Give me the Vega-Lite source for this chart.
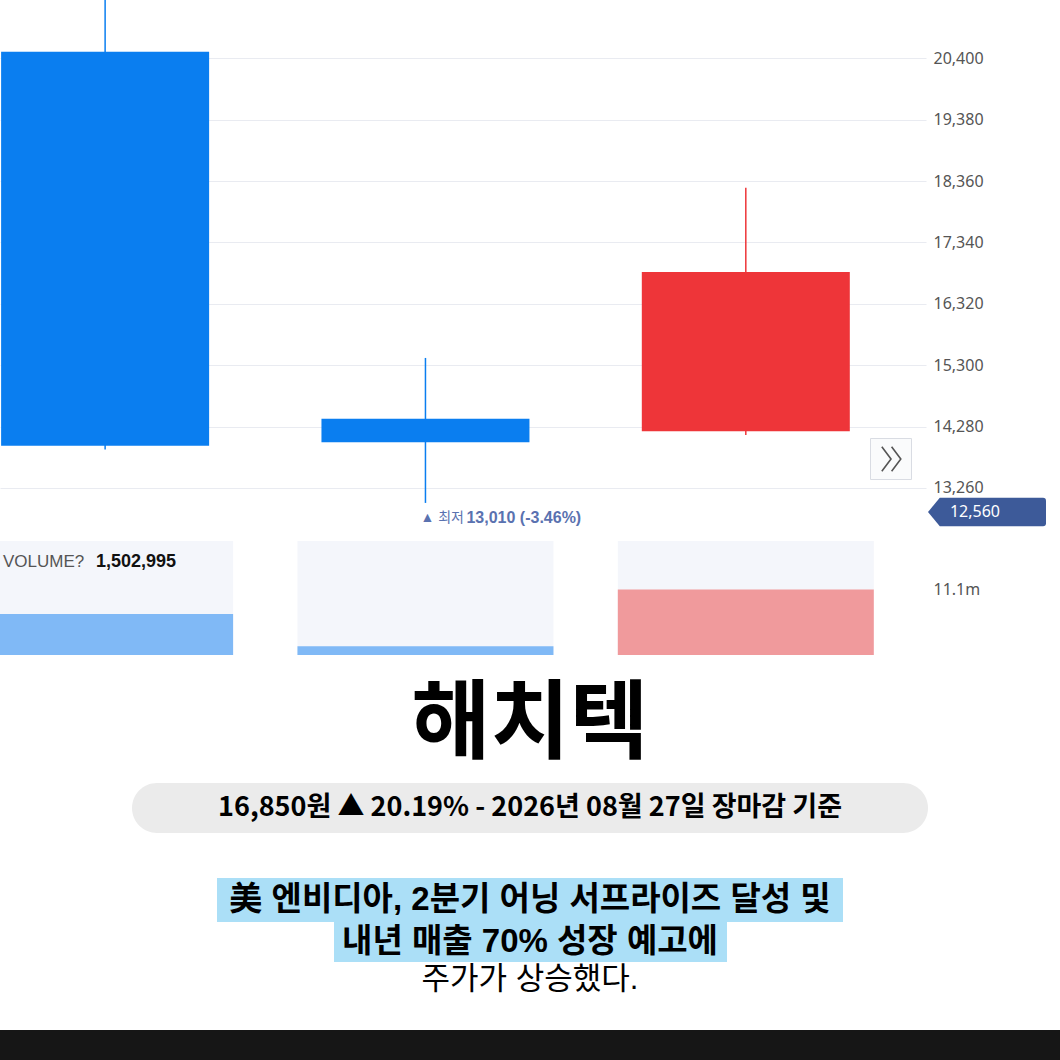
{
  "$schema": "https://vega.github.io/schema/vega-lite/v6.json",
  "padding": 0,
  "spacing": 11,
  "bounds": "flush",
  "background": "white",
  "config": {"view": {"stroke": null}},
  "resolve": {"scale": {"x": "independent", "y": "independent"}},
  "datasets": {
    "candles": [
      {"date": "2026-08-25T00:00:00", "open": 20510, "high": 21900, "low": 13900, "close": 13960, "volume": 6950000},
      {"date": "2026-08-26T00:00:00", "open": 14410, "high": 15420, "low": 13010, "close": 14020, "volume": 1502995},
      {"date": "2026-08-27T00:00:00", "open": 14200, "high": 18250, "low": 14140, "close": 16850, "volume": 11100000}
    ]
  },
  "vconcat": [
    {
      "width": 926,
      "height": 530,
      "data": {"name": "candles"},
      "encoding": {
        "x": {"field": "date", "type": "temporal", "axis": null,
              "scale": {"domain": ["2026-08-24T16:07:30", "2026-08-27T13:30:00"], "padding": 0}}
      },
      "layer": [
        {
          "mark": {"type": "rule", "strokeWidth": 1.5, "clip": true},
          "encoding": {
            "y": {"field": "low", "type": "quantitative",
                  "scale": {"domain": [12560, 21370], "nice": false, "zero": false},
                  "axis": {"orient": "right", "values": [13260, 14280, 15300, 16320, 17340, 18360, 19380, 20400],
                           "format": ",d", "ticks": false, "domain": false, "labelPadding": 7,
                           "labelFont": "Noto Sans", "labelFontSize": 16, "labelColor": "#555555",
                           "gridColor": "#e9ebf1", "gridWidth": 1, "title": null}},
            "y2": {"field": "high"},
            "color": {"condition": {"test": "datum.close > datum.open", "value": "#ee3539"}, "value": "#0a7ef0"}
          }
        },
        {
          "mark": {"type": "bar", "size": 208, "clip": true},
          "encoding": {
            "y": {"field": "open", "type": "quantitative"},
            "y2": {"field": "close"},
            "color": {"condition": {"test": "datum.close > datum.open", "value": "#ee3539"}, "value": "#0a7ef0"}
          }
        },
        {
          "transform": [{"filter": "datum.low == 13010"}],
          "mark": {"type": "text", "align": "left", "baseline": "middle", "dx": -5, "dy": 15,
                   "font": "Liberation Sans, Noto Sans CJK KR", "fontSize": 14, "fill": "#5a72b0"},
          "encoding": {"y": {"field": "low", "type": "quantitative"}, "text": {"value": "▲ 최저"}}
        },
        {
          "transform": [{"filter": "datum.low == 13010"}],
          "mark": {"type": "text", "align": "left", "baseline": "middle", "dx": 41, "dy": 15,
                   "font": "Liberation Sans", "fontSize": 16, "fontWeight": "bold", "fill": "#5a72b0"},
          "encoding": {"y": {"field": "low", "type": "quantitative"}, "text": {"value": "13,010 (-3.46%)"}}
        },
        {
          "data": {"values": [{"price": 12560, "label": "12,560"}]},
          "mark": {"type": "point", "filled": true, "opacity": 1, "fill": "#3d5a99", "strokeWidth": 0,
                   "shape": "M-1,0L-0.8,-0.24L0.95,-0.24Q1,-0.24 1,-0.19L1,0.19Q1,0.24 0.95,0.24L-0.8,0.24Z",
                   "size": 13924, "xOffset": 61, "yOffset": -18},
          "encoding": {"x": {"value": "width"}, "y": {"field": "price", "type": "quantitative"}}
        },
        {
          "data": {"values": [{"price": 12560, "label": "12,560"}]},
          "mark": {"type": "text", "fill": "white", "font": "Noto Sans", "fontSize": 16,
                   "xOffset": 49, "yOffset": -18, "baseline": "middle"},
          "encoding": {"x": {"value": "width"}, "y": {"field": "price", "type": "quantitative"}, "text": {"field": "label"}}
        },
        {
          "data": {"values": [{"price": 13740}]},
          "mark": {"type": "point", "shape": "square", "size": 1681, "filled": true, "opacity": 1,
                   "fill": "#fafbfc", "stroke": "#d9dce3", "strokeWidth": 1, "xOffset": -35},
          "encoding": {"x": {"value": "width"}, "y": {"field": "price", "type": "quantitative"}}
        },
        {
          "data": {"values": [{"price": 13740}]},
          "mark": {"type": "point", "shape": "M-0.75,-1L0,0L-0.75,1M0.05,-1L0.8,0L0.05,1", "size": 600,
                   "filled": false, "opacity": 1, "stroke": "#555555", "strokeWidth": 1.6, "xOffset": -35},
          "encoding": {"x": {"value": "width"}, "y": {"field": "price", "type": "quantitative"}}
        }
      ]
    },
    {
      "width": 926,
      "height": 114,
      "data": {"name": "candles"},
      "encoding": {
        "x": {"field": "date", "type": "temporal", "axis": null,
              "scale": {"domain": ["2026-08-24T16:07:30", "2026-08-27T13:30:00"], "padding": 0}}
      },
      "layer": [
        {
          "mark": {"type": "bar", "size": 256, "clip": true, "color": "#f4f6fb"},
          "encoding": {"y": {"value": 0}, "y2": {"value": "height"}}
        },
        {
          "mark": {"type": "bar", "size": 256, "clip": true},
          "encoding": {
            "y": {"field": "volume", "type": "quantitative",
                  "scale": {"domain": [0, 19320000], "nice": false},
                  "axis": {"orient": "right", "values": [11100000], "labelExpr": "format(datum.value/1e6, '.1f') + 'm'",
                           "ticks": false, "domain": false, "grid": false, "labelPadding": 7,
                           "labelFont": "Noto Sans", "labelFontSize": 16, "labelColor": "#555555", "title": null}},
            "color": {"condition": {"test": "datum.close > datum.open", "value": "#f09a9c"}, "value": "#80b9f6"}
          }
        },
        {
          "data": {"values": [{"label": "VOLUME?"}]},
          "mark": {"type": "text", "align": "left", "baseline": "middle", "font": "Liberation Sans",
                   "fontSize": 17, "fill": "#555555"},
          "encoding": {"x": {"value": 3}, "y": {"value": 21}, "text": {"field": "label"}}
        },
        {
          "data": {"values": [{"label": "1,502,995"}]},
          "mark": {"type": "text", "align": "left", "baseline": "middle", "font": "Liberation Sans",
                   "fontSize": 18, "fontWeight": "bold", "fill": "#111111"},
          "encoding": {"x": {"value": 96}, "y": {"value": 21}, "text": {"field": "label"}}
        }
      ]
    },
    {
      "width": 1060,
      "height": 394,
      "data": {"values": [{"n": 1}]},
      "layer": [
        {
          "mark": {"type": "rect", "fill": "#ebebeb", "cornerRadius": 25},
          "encoding": {"x": {"value": 132}, "x2": {"value": 928}, "y": {"value": 117}, "y2": {"value": 167}}
        },
        {
          "mark": {"type": "rect", "fill": "#abdff7"},
          "encoding": {"x": {"value": 217}, "x2": {"value": 843}, "y": {"value": 212}, "y2": {"value": 256}}
        },
        {
          "mark": {"type": "rect", "fill": "#abdff7"},
          "encoding": {"x": {"value": 334}, "x2": {"value": 727}, "y": {"value": 256}, "y2": {"value": 296}}
        },
        {
          "mark": {"type": "rect", "fill": "#161616"},
          "encoding": {"x": {"value": 0}, "x2": {"value": 1060}, "y": {"value": 364}, "y2": {"value": 394}}
        },
        {
          "mark": {"type": "text", "align": "center", "baseline": "middle", "font": "Noto Sans CJK KR",
                   "fontSize": 86, "fontWeight": "bold", "fill": "#000000"},
          "encoding": {"x": {"value": 530}, "y": {"value": 60}, "text": {"value": "해치텍"}}
        },
        {
          "mark": {"type": "text", "align": "center", "baseline": "middle", "font": "Noto Sans CJK KR",
                   "fontSize": 27, "fontWeight": "bold", "fill": "#000000"},
          "encoding": {"x": {"value": 530}, "y": {"value": 142}, "text": {"value": "16,850원 ▲ 20.19% - 2026년 08월 27일 장마감 기준"}}
        },
        {
          "mark": {"type": "text", "align": "center", "baseline": "middle", "font": "Liberation Sans, Noto Sans CJK KR",
                   "fontSize": 33, "fontWeight": "bold", "fill": "#000000"},
          "encoding": {"x": {"value": 530}, "y": {"value": 234}, "text": {"value": "美 엔비디아, 2분기 어닝 서프라이즈 달성 및"}}
        },
        {
          "mark": {"type": "text", "align": "center", "baseline": "middle", "font": "Liberation Sans, Noto Sans CJK KR",
                   "fontSize": 33, "fontWeight": "bold", "fill": "#000000"},
          "encoding": {"x": {"value": 530}, "y": {"value": 276}, "text": {"value": "내년 매출 70% 성장 예고에"}}
        },
        {
          "mark": {"type": "text", "align": "center", "baseline": "middle", "font": "Liberation Sans, Noto Sans CJK KR",
                   "fontSize": 31, "fontWeight": "normal", "fill": "#000000"},
          "encoding": {"x": {"value": 530}, "y": {"value": 314}, "text": {"value": "주가가 상승했다."}}
        }
      ]
    }
  ]
}
